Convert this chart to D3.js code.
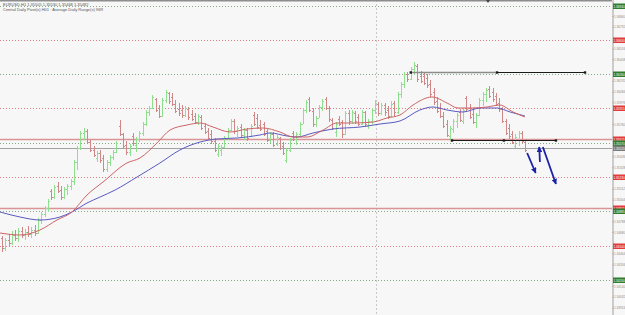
<!DOCTYPE html>
<html>
<head>
<meta charset="utf-8">
<script src="https://cdn.jsdelivr.net/npm/d3@7"></script>
<style>
  html, body { margin: 0; padding: 0; background: #f7f7f7; }
  svg { display: block; font-family: "Liberation Sans", "DejaVu Sans", sans-serif; }
</style>
</head>
<body>
<div id="chart"></div>
<script>
// EURUSD H1 bars
var opens = [1.3462,1.3452,1.3460,1.3457,1.3465,1.3462,1.3469,1.3465,1.3468,1.3466,1.3470,1.3467,1.3480,1.3486,1.3492,1.3509,1.3503,1.3514,1.3510,1.3503,
  1.3511,1.3514,1.3519,1.3538,1.3552,1.3567,1.3569,1.3558,1.3550,1.3542,1.3547,1.3542,1.3531,1.3538,1.3543,1.3548,1.3574,1.3566,1.3555,1.3548,
  1.3564,1.3555,1.3561,1.3567,1.3576,1.3588,1.3592,1.3601,1.3592,1.3584,1.3600,1.3607,1.3603,1.3596,1.3591,1.3590,1.3585,1.3591,1.3586,1.3584,
  1.3578,1.3583,1.3574,1.3569,1.3566,1.3559,1.3546,1.3550,1.3553,1.3562,1.3570,1.3579,1.3569,1.3573,1.3565,1.3570,1.3564,1.3585,1.3582,1.3575,
  1.3576,1.3569,1.3560,1.3566,1.3556,1.3562,1.3554,1.3540,1.3550,1.3567,1.3561,1.3566,1.3576,1.3590,1.3601,1.3589,1.3576,1.3582,1.3593,1.3601,
  1.3592,1.3580,1.3568,1.3581,1.3578,1.3566,1.3587,1.3579,1.3587,1.3583,1.3576,1.3588,1.3574,1.3579,1.3590,1.3596,1.3587,1.3595,1.3590,1.3584,
  1.3597,1.3588,1.3606,1.3616,1.3626,1.3621,1.3631,1.3634,1.3624,1.3624,1.3622,1.3616,1.3608,1.3599,1.3592,1.3584,1.3576,1.3564,1.3571,1.3579,
  1.3588,1.3579,1.3602,1.3592,1.3586,1.3578,1.3585,1.3600,1.3606,1.3611,1.3608,1.3604,1.3597,1.3591,1.3579,1.3572,1.3566,1.3554,1.3560,1.3567,1.3558];
var highs = [1.3464,1.3462,1.3466,1.3469,1.3470,1.3472,1.3473,1.3471,1.3474,1.3473,1.3475,1.3482,1.3488,1.3494,1.3501,1.3511,1.3515,1.3518,1.3514,1.3513,
  1.3516,1.3521,1.3540,1.3554,1.3569,1.3572,1.3571,1.3560,1.3554,1.3549,1.3550,1.3545,1.3540,1.3545,1.3550,1.3559,1.3580,1.3567,1.3559,1.3556,
  1.3567,1.3563,1.3569,1.3578,1.3590,1.3594,1.3605,1.3602,1.3595,1.3602,1.3610,1.3608,1.3607,1.3600,1.3597,1.3595,1.3594,1.3593,1.3590,1.3587,
  1.3586,1.3585,1.3577,1.3572,1.3570,1.3562,1.3556,1.3555,1.3564,1.3572,1.3581,1.3581,1.3574,1.3576,1.3572,1.3572,1.3576,1.3588,1.3586,1.3580,
  1.3578,1.3571,1.3568,1.3568,1.3565,1.3563,1.3558,1.3552,1.3562,1.3569,1.3568,1.3578,1.3592,1.3600,1.3603,1.3592,1.3584,1.3595,1.3601,1.3603,
  1.3594,1.3582,1.3578,1.3584,1.3580,1.3589,1.3590,1.3590,1.3589,1.3586,1.3590,1.3589,1.3581,1.3592,1.3600,1.3598,1.3597,1.3597,1.3594,1.3599,
  1.3599,1.3608,1.3618,1.3628,1.3628,1.3633,1.3638,1.3636,1.3629,1.3627,1.3626,1.3620,1.3612,1.3603,1.3597,1.3588,1.3580,1.3574,1.3581,1.3587,
  1.3591,1.3592,1.3604,1.3596,1.3592,1.3587,1.3602,1.3608,1.3612,1.3614,1.3612,1.3607,1.3602,1.3593,1.3581,1.3576,1.3569,1.3566,1.3569,1.3569,1.3559];
var lows = [1.3448,1.3449,1.3454,1.3455,1.3459,1.3458,1.3462,1.3460,1.3463,1.3462,1.3464,1.3466,1.3476,1.3483,1.3488,1.3500,1.3501,1.3507,1.3500,1.3501,
  1.3505,1.3510,1.3515,1.3530,1.3550,1.3560,1.3556,1.3548,1.3543,1.3538,1.3537,1.3528,1.3528,1.3534,1.3540,1.3547,1.3564,1.3552,1.3545,1.3544,
  1.3554,1.3548,1.3558,1.3564,1.3574,1.3584,1.3591,1.3588,1.3582,1.3583,1.3597,1.3596,1.3594,1.3587,1.3584,1.3582,1.3583,1.3580,1.3579,1.3576,
  1.3575,1.3570,1.3566,1.3560,1.3556,1.3548,1.3543,1.3544,1.3552,1.3560,1.3569,1.3566,1.3563,1.3562,1.3560,1.3559,1.3563,1.3574,1.3571,1.3569,
  1.3564,1.3558,1.3557,1.3553,1.3554,1.3550,1.3545,1.3537,1.3548,1.3559,1.3555,1.3564,1.3576,1.3587,1.3588,1.3573,1.3573,1.3582,1.3589,1.3590,
  1.3578,1.3570,1.3563,1.3574,1.3562,1.3565,1.3575,1.3576,1.3576,1.3574,1.3575,1.3573,1.3571,1.3576,1.3586,1.3584,1.3585,1.3584,1.3581,1.3583,
  1.3584,1.3586,1.3602,1.3612,1.3618,1.3620,1.3625,1.3618,1.3617,1.3615,1.3612,1.3603,1.3595,1.3587,1.3582,1.3572,1.3563,1.3560,1.3567,1.3572,
  1.3578,1.3576,1.3588,1.3581,1.3576,1.3572,1.3584,1.3594,1.3598,1.3602,1.3598,1.3594,1.3588,1.3577,1.3565,1.3561,1.3556,1.3552,1.3554,1.3557,1.3548];
var closes = [1.3452,1.3460,1.3457,1.3465,1.3462,1.3469,1.3465,1.3468,1.3466,1.3470,1.3467,1.3480,1.3486,1.3492,1.3499,1.3503,1.3513,1.3509,1.3503,1.3511,
  1.3514,1.3519,1.3538,1.3552,1.3567,1.3569,1.3558,1.3550,1.3545,1.3547,1.3540,1.3531,1.3538,1.3543,1.3548,1.3557,1.3566,1.3554,1.3548,1.3554,
  1.3557,1.3561,1.3567,1.3576,1.3588,1.3592,1.3603,1.3590,1.3584,1.3600,1.3608,1.3599,1.3596,1.3589,1.3587,1.3585,1.3592,1.3583,1.3581,1.3578,
  1.3584,1.3572,1.3568,1.3562,1.3559,1.3550,1.3554,1.3553,1.3562,1.3570,1.3579,1.3569,1.3572,1.3565,1.3570,1.3562,1.3574,1.3576,1.3573,1.3571,
  1.3566,1.3560,1.3566,1.3555,1.3563,1.3552,1.3547,1.3550,1.3560,1.3561,1.3566,1.3576,1.3590,1.3598,1.3590,1.3576,1.3582,1.3593,1.3599,1.3592,
  1.3581,1.3572,1.3576,1.3576,1.3566,1.3587,1.3579,1.3588,1.3579,1.3576,1.3588,1.3576,1.3579,1.3590,1.3597,1.3587,1.3595,1.3588,1.3584,1.3596,
  1.3588,1.3606,1.3616,1.3626,1.3621,1.3631,1.3635,1.3621,1.3619,1.3617,1.3615,1.3606,1.3598,1.3589,1.3584,1.3574,1.3565,1.3572,1.3579,1.3585,
  1.3580,1.3590,1.3591,1.3583,1.3578,1.3585,1.3600,1.3606,1.3610,1.3604,1.3601,1.3596,1.3591,1.3579,1.3567,1.3564,1.3558,1.3563,1.3567,1.3559,1.3550];

// moving averages: [bar index, price]
var maFast = [[-0.6,1.3467],[5.5,1.3465],[11.6,1.3470],[16.8,1.3480],[21.4,1.3488],[26,1.3505],[30.9,1.3518],[38.2,1.3537],[42.2,1.3542],
  [47.4,1.3557],[51.4,1.3570],[56.6,1.3575],[60.6,1.3577],[64.5,1.3573],[69.7,1.3568],[74.9,1.3571],[79.8,1.3572],[85,1.3568],[89,1.3563],
  [93.3,1.3563],[98.2,1.3570],[102.4,1.3577],[107.3,1.3577],[113.5,1.3578],[117.7,1.3582],[121.7,1.3585],[125.7,1.3595],[131.5,1.3603],
  [136.1,1.3597],[139.4,1.3592],[143.7,1.3592],[148.3,1.3593],[152.2,1.3595],[156.3,1.3588],[159.9,1.3583]];
var maSlow = [[-0.6,1.3488],[5.5,1.3483],[11.6,1.3480],[17.7,1.3483],[21.4,1.3488],[26,1.3497],[30,1.3503],[34.6,1.3510],[41.3,1.3523],
  [48.3,1.3537],[54.4,1.3550],[60.6,1.3558],[65.7,1.3561],[71.9,1.3562],[78.9,1.3565],[82,1.3567],[87.2,1.3564],[90.2,1.3563],[95.1,1.3567],
  [101.2,1.3571],[109.5,1.3573],[115.6,1.3576],[121.7,1.3579],[127.8,1.3590],[131.8,1.3593],[136.1,1.3590],[141,1.3588],[146.2,1.3592],
  [151.4,1.3592],[155.4,1.3588],[159.9,1.3584]];

// horizontal levels
var levelPrices = [1.3694, 1.3660, 1.3626, 1.35915, 1.35615, 1.3557, 1.3552, 1.3523, 1.34915, 1.34885, 1.3454, 1.3420];
var levelTypes  = ["adr", "pivot", "adr", "pivot", "line", "adr", "close", "pivot", "line", "adr", "pivot", "adr"];

// trend lines: from index, to index, mid index, price
var trendFrom = [125, 137.6];
var trendTo   = [178.3, 169.4];
var trendMid  = [151.4, 153.5];
var trendPrice = [1.3628, 1.3560];

// arrows: from [index, price] to [index, price]
var arrows = [[160.6, 1.3547, 163.2, 1.3527], [164.5, 1.3538, 164.3, 1.3553], [165.4, 1.3553, 169.4, 1.3516]];

var separatorIdx = [114.4];
var axisTicks = [1.36840,1.36732,1.36624,1.36516,1.36408,1.36300,1.36192,1.36084,1.35976,1.35868,1.35760,1.35652,1.35544,1.35436,
  1.35328,1.35220,1.35112,1.35004,1.34896,1.34788,1.34680,1.34572,1.34464,1.34356,1.34248,1.34140,1.34032,1.33924];

var W = 625, H = 315, plotRight = 612;

var svg = d3.select("#chart").append("svg").attr("width", W).attr("height", H);
svg.append("rect").attr("width", W).attr("height", H).attr("fill", "#f7f7f7");

var x = d3.scaleLinear().domain([0, 160]).range([2, 2 + 3.27 * 160]);
var y = d3.scaleLinear().domain([1.3385, 1.3700]).range([H, 0]);

var styles = {
  adr:   { stroke: "#82ad82", dash: "1,2", width: 1, box: "#2f7d2f" },
  pivot: { stroke: "#e08080", dash: "1,2", width: 1, box: "#e23b3b" },
  line:  { stroke: "#d99595", dash: null, width: 1.3, box: "#e23b3b" },
  close: { stroke: "#a2a2a2", dash: null, width: 1, box: "#7a7a7a" }
};

// period separator
svg.selectAll(".sep").data(separatorIdx).enter().append("line")
  .attr("x1", function (d) { return Math.round(x(d)) + 0.5; })
  .attr("x2", function (d) { return Math.round(x(d)) + 0.5; })
  .attr("y1", 0).attr("y2", H)
  .attr("stroke", "#c8c8c8").attr("stroke-dasharray", "2,2");

// levels
var levels = levelPrices.map(function (p, i) { return { p: p, t: levelTypes[i] }; });
svg.selectAll(".lvl").data(levels).enter().append("line")
  .attr("x1", 0).attr("x2", plotRight)
  .attr("y1", function (d) { return Math.round(y(d.p)) + 0.5; })
  .attr("y2", function (d) { return Math.round(y(d.p)) + 0.5; })
  .attr("stroke", function (d) { return styles[d.t].stroke; })
  .attr("stroke-width", function (d) { return styles[d.t].width; })
  .attr("stroke-dasharray", function (d) { return styles[d.t].dash; });

// bars
var bars = svg.append("g").attr("shape-rendering", "crispEdges");
var idx = d3.range(opens.length);
function barColor(i) { return closes[i] >= opens[i] ? "#8ee08e" : "#cf8787"; }
bars.selectAll(".hl").data(idx).enter().append("line")
  .attr("x1", function (i) { return Math.round(x(i)) + 0.5; })
  .attr("x2", function (i) { return Math.round(x(i)) + 0.5; })
  .attr("y1", function (i) { return y(highs[i]); })
  .attr("y2", function (i) { return y(lows[i]); })
  .attr("stroke", barColor);
bars.selectAll(".op").data(idx).enter().append("line")
  .attr("x1", function (i) { return Math.round(x(i)) - 1; })
  .attr("x2", function (i) { return Math.round(x(i)); })
  .attr("y1", function (i) { return Math.round(y(opens[i])) + 0.5; })
  .attr("y2", function (i) { return Math.round(y(opens[i])) + 0.5; })
  .attr("stroke", barColor);
bars.selectAll(".cl").data(idx).enter().append("line")
  .attr("x1", function (i) { return Math.round(x(i)) + 1; })
  .attr("x2", function (i) { return Math.round(x(i)) + 2; })
  .attr("y1", function (i) { return Math.round(y(closes[i])) + 0.5; })
  .attr("y2", function (i) { return Math.round(y(closes[i])) + 0.5; })
  .attr("stroke", barColor);

// moving averages
var maLine = d3.line()
  .x(function (d) { return x(d[0]); })
  .y(function (d) { return y(d[1]); })
  .curve(d3.curveMonotoneX);
svg.append("path").attr("d", maLine(maSlow))
  .attr("fill", "none").attr("stroke", "#5a5ac0").attr("stroke-width", 1);
svg.append("path").attr("d", maLine(maFast))
  .attr("fill", "none").attr("stroke", "#cc6464").attr("stroke-width", 1);

// trend lines
trendPrice.forEach(function (p, i) {
  var yy = Math.round(y(p)) + 0.5;
  svg.append("line").attr("x1", x(trendFrom[i])).attr("x2", x(trendTo[i]))
    .attr("y1", yy).attr("y2", yy).attr("stroke", "#1a1a1a").attr("stroke-width", 1.2);
  if (i === 0) {
    svg.append("line").attr("x1", x(trendFrom[i])).attr("x2", x(trendMid[i]))
      .attr("y1", yy).attr("y2", yy).attr("stroke", "#8c8c8c").attr("stroke-width", 1.6);
  }
  [trendFrom[i], trendMid[i], trendTo[i]].forEach(function (t) {
    svg.append("rect").attr("x", x(t) - 1.2).attr("y", yy - 1.2)
      .attr("width", 2.4).attr("height", 2.4).attr("fill", "#1a1a1a");
  });
});

// arrows
var defs = svg.append("defs");
defs.append("marker").attr("id", "head").attr("viewBox", "0 0 10 10")
  .attr("refX", 9).attr("refY", 5).attr("markerWidth", 3.2).attr("markerHeight", 3.2)
  .attr("orient", "auto").append("path").attr("d", "M0,0 L10,5 L0,10 Z").attr("fill", "#1b22a8");
svg.selectAll(".arr").data(arrows).enter().append("line")
  .attr("x1", function (d) { return x(d[0]); })
  .attr("y1", function (d) { return y(d[1]); })
  .attr("x2", function (d) { return x(d[2]); })
  .attr("y2", function (d) { return y(d[3]); })
  .attr("stroke", "#1b22a8").attr("stroke-width", 1.8)
  .attr("marker-end", "url(#head)");

// top frame and shift marker
svg.append("rect").attr("x", 0).attr("y", 0).attr("width", W).attr("height", 1.5).attr("fill", "#8d8d8d");
svg.append("path").attr("d", "M486,0 L490,0 L488,3 Z").attr("fill", "#444");

// price axis (labels hidden where a level box sits on top)
svg.append("rect").attr("x", plotRight).attr("y", 0).attr("width", W - plotRight).attr("height", H).attr("fill", "#f7f7f7");
var freeTicks = axisTicks.filter(function (t) {
  return !levelPrices.some(function (p) { return Math.abs(y(p) - y(t)) < 5; });
});
var axis = svg.append("g").attr("transform", "translate(" + (plotRight + 0.5) + ",0)")
  .call(d3.axisRight(y).tickValues(freeTicks).tickSize(1).tickPadding(0.5).tickFormat(d3.format(".5f")));
axis.select(".domain").attr("stroke", "#a0a0a0");
axis.selectAll(".tick line").attr("stroke", "#a0a0a0");
axis.selectAll("text").attr("font-size", "3.1px").attr("fill", "#8a8a8a").attr("font-family", "Liberation Sans");

// level price boxes
var boxes = svg.selectAll(".box").data(levels).enter().append("g")
  .attr("transform", function (d) { return "translate(" + (plotRight + 1) + "," + Math.round(y(d.p)) + ")"; });
boxes.append("rect").attr("x", 0).attr("y", -2.5).attr("width", W - plotRight - 1).attr("height", 5.5)
  .attr("fill", function (d) { return styles[d.t].box; });
boxes.append("text").attr("x", 0.5).attr("y", 1.6).attr("font-size", "3.1px").attr("fill", "#fff")
  .text(function (d) { return d3.format(".5f")(d.p); });

// header text
svg.append("text").attr("x", 3).attr("y", 6).attr("font-size", "4px").attr("fill", "#555")
  .text("EURUSD,H1  1.35505 1.35530 1.35468 1.35482");
svg.append("text").attr("x", 3).attr("y", 10.5).attr("font-size", "4px").attr("fill", "#555")
  .text("Central Daily Pivot(s) H01 · Average Daily Range(s) 96R");
</script>
</body>
</html>
